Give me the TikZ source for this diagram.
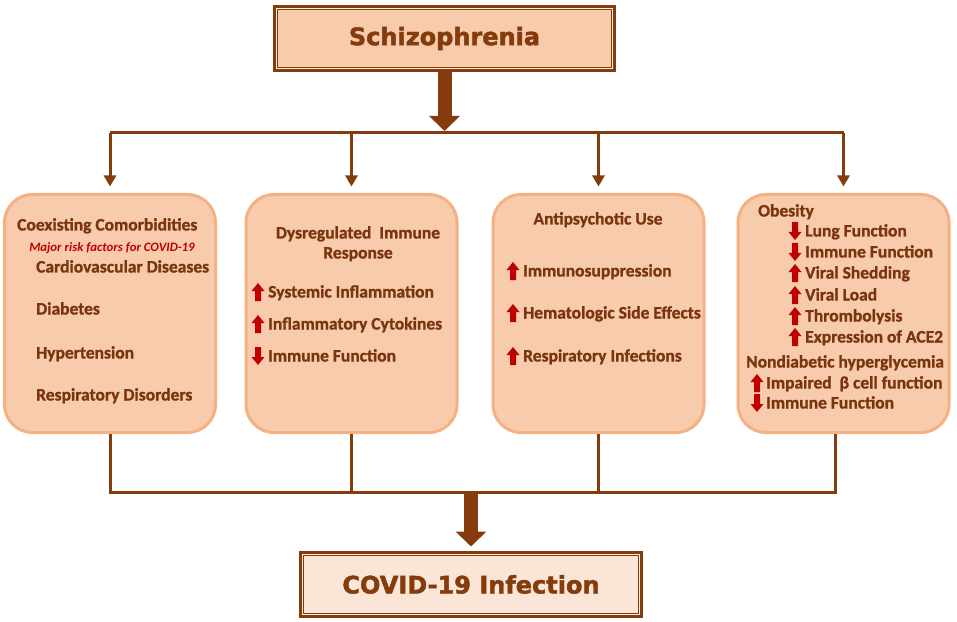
\documentclass[tikz,border=0pt]{standalone}
\usepackage{fontspec}
\setmainfont{Carlito}[BoldFeatures={FakeBold=1.2}]
\newfontfamily\headfont{DejaVu Sans}[BoldFeatures={FakeBold=2}]
\usetikzlibrary{arrows.meta}
\definecolor{brownline}{HTML}{843C0C}
\definecolor{boxfill}{HTML}{F8CBAD}
\definecolor{boxedge}{HTML}{F4B183}
\definecolor{lightfill}{HTML}{FBE5D6}
\definecolor{arrowred}{HTML}{C00000}
\definecolor{textbrown}{HTML}{7A3510}
\tikzset{
  uparr/.pic={\fill[arrowred] (-6.5,-1) -- (0,-9) -- (6.5,-1) -- (3,-1) -- (3,9) -- (-3,9) -- (-3,-1) -- cycle;},
  downarr/.pic={\fill[arrowred] (-6.5,1) -- (0,9) -- (6.5,1) -- (3,1) -- (3,-9) -- (-3,-9) -- (-3,1) -- cycle;}
}
\begin{document}
\begin{tikzpicture}[x=1bp,y=-1bp,>=latex,
  headbox/.style={draw=brownline,line width=5bp,minimum width=338bp,minimum height=62bp,text=brownline,font=\headfont\fontsize{24bp}{28bp}\bfseries},
  innerline/.style={draw=white!65!boxfill,line width=1bp},
  midbox/.style={draw=boxedge,line width=3bp,fill=boxfill,rounded corners=28bp,minimum width=211bp,minimum height=238bp},
  item/.style={anchor=west,inner sep=0pt,text height=11bp,text depth=0pt,text=textbrown,font=\fontsize{17.5bp}{21bp}\selectfont\bfseries},
  wire/.style={draw=brownline,line width=3bp},
  bigarrow/.style={draw=brownline,line width=14bp,-{Triangle[width=30bp,length=15bp]}}]
	\useasboundingbox (0,0) rectangle (957,622);
	% top and bottom boxes
	\node[headbox,fill=boxfill] (schiz) at (444.5,38.5) {Schizophrenia};
	\draw[innerline] ([shift={(3.5,3.5)}]schiz.north west) rectangle ([shift={(-3.5,-3.5)}]schiz.south east);
	\node[headbox,fill=lightfill,minimum width=339bp] (covid) at (471,584.5) {COVID-19 Infection};
	\draw[innerline] ([shift={(3.5,3.5)}]covid.north west) rectangle ([shift={(-3.5,-3.5)}]covid.south east);
	% four boxes
	\node[midbox] (b1) at (110,313.5) {};
	\node[midbox] (b2) at (351.5,313.5) {};
	\node[midbox] (b3) at (598.5,313.5) {};
	\node[midbox] (b4) at (843.5,313.5) {};
	\coordinate (topbus) at (0,133);
	\coordinate (lowbus) at (0,492);
	\coordinate (b4out) at ([xshift=-8bp]b4.south);
	% connectors
	\draw[bigarrow,shorten >=2bp] (schiz.south) -- (schiz.south |- topbus);
	\draw[wire] (b1.north |- topbus) -- (b4.north |- topbus);
	\foreach \b in {b1,b2,b3,b4}
		\draw[wire,-{Triangle[width=12bp,length=11bp]},shorten >=6.5bp] (\b.north |- topbus) -- (\b.north);
	\draw[wire] (b1.south) |- (lowbus -| b4out) -- (b4out);
	\draw[wire] (b2.south) -- (b2.south |- lowbus);
	\draw[wire] (b3.south) -- (b3.south |- lowbus);
	\draw[bigarrow,shorten >=4.5bp] (covid.north |- lowbus) -- (covid.north);
	% box 1
	\node[item] (t11) at (17,225) {Coexisting Comorbidities};
	\node[item,anchor=center,text=arrowred,text height=8bp,font=\fontsize{12.8bp}{15bp}\selectfont\bfseries\itshape] (t12) at (112,248) {Major risk factors for COVID-19};
	\node[item] (t13) at (36,267) {Cardiovascular Diseases};
	\node[item] (t14) at (36,309) {Diabetes};
	\node[item] (t15) at (36,353) {Hypertension};
	\node[item] (t16) at (36,395) {Respiratory Disorders};
	% box 2
	\node[item,anchor=center] (t21) at (358,233) {Dysregulated\ \ Immune};
	\node[item,anchor=center] (t22) at (358,253) {Response};
	\node[item] (t23) at (268,292) {Systemic Inflammation};
	\node[item] (t24) at (268,324) {Inflammatory Cytokines};
	\node[item] (t25) at (268,356) {Immune Function};
	\pic at ([xshift=-10bp]t23.west) {uparr};
	\pic at ([xshift=-10bp]t24.west) {uparr};
	\pic at ([xshift=-10bp]t25.west) {downarr};
	% box 3
	\node[item,anchor=center] (t31) at (598,219) {Antipsychotic Use};
	\node[item] (t32) at (523,271) {Immunosuppression};
	\node[item] (t33) at (523,313) {Hematologic Side Effects};
	\node[item] (t34) at (523,356) {Respiratory Infections};
	\foreach \t in {t32,t33,t34}
		\pic at ([xshift=-10bp]\t.west) {uparr};
	% box 4
	\node[item] (t41) at (758,211) {Obesity};
	\node[item] (t42) at (805,231) {Lung Function};
	\node[item] (t43) at (805,252) {Immune Function};
	\node[item] (t44) at (805,273) {Viral Shedding};
	\node[item] (t45) at (805,295) {Viral Load};
	\node[item] (t46) at (805,316) {Thrombolysis};
	\node[item] (t47) at (805,337) {Expression of ACE2};
	\node[item] (t48) at (746,362) {Nondiabetic hyperglycemia};
	\node[item] (t49) at (766,383) {Impaired\ \ β cell function};
	\node[item] (t4a) at (766,403) {Immune Function};
	\foreach \t in {t42,t43}
		\pic at ([xshift=-10bp]\t.west) {downarr};
	\foreach \t in {t44,t45,t46,t47}
		\pic at ([xshift=-10bp]\t.west) {uparr};
	\pic at ([xshift=-9bp]t49.west) {uparr};
	\pic at ([xshift=-9bp]t4a.west) {downarr};
\end{tikzpicture}
\end{document}
